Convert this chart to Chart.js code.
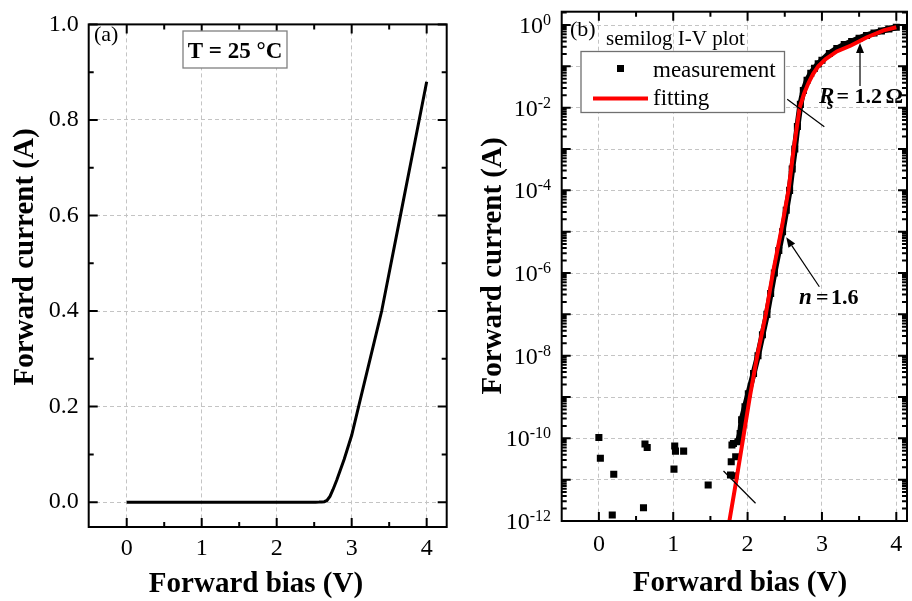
<!DOCTYPE html>
<html>
<head>
<meta charset="utf-8">
<script src="https://cdn.jsdelivr.net/npm/chart.js@4.4.1/dist/chart.umd.min.js"></script>
<style>
  html, body { margin: 0; padding: 0; background: #fff; }
  #wrap { position: relative; width: 912px; height: 601px; }
  #chartA { position: absolute; left: 0; top: 0; }
  #chartB { position: absolute; left: 460px; top: 0; }
</style>
</head>
<body>
<div id="wrap">
  <canvas id="chartA" width="460" height="601"></canvas>
  <canvas id="chartB" width="452" height="601"></canvas>
</div>
<script>
// measured forward I-V (bias in V, current in A)
const biasV = [0.00, 0.02, 0.18, 0.20, 0.60, 0.62, 0.65, 1.01, 1.02, 1.03, 1.14, 1.47,
  1.77, 1.78, 1.79, 1.81, 1.83, 1.84, 1.87, 1.90, 1.92, 1.965, 2.01, 2.08, 2.14, 2.20,
  2.26, 2.31, 2.36, 2.42, 2.47, 2.52, 2.565, 2.60, 2.635, 2.67, 2.71, 2.75, 2.80, 2.85,
  2.90, 2.95, 3.00, 3.10, 3.20, 3.30, 3.40, 3.50, 3.60, 3.70, 3.80, 3.90, 4.00];
const currentA = [1.05e-10, 3.3e-11, 1.4e-12, 1.35e-11, 2.1e-12, 7.3e-11, 6.0e-11, 1.8e-11, 6.5e-11, 4.9e-11, 4.9e-11, 7.4e-12,
  1.3e-11, 2.7e-11, 6.9e-11, 7.5e-11, 1.25e-11, 3.6e-11, 8.3e-11, 1.3e-10, 2.8e-10, 5.8e-10, 1.2e-9, 3.7e-9, 1.0e-8, 3.2e-8,
  1.0e-7, 3.2e-7, 1.0e-6, 3.5e-6, 1.0e-5, 3.3e-5, 1.0e-4, 3.3e-4, 1.0e-3, 3.5e-3, 1.2e-2, 2.6e-2, 4.6e-2, 6.8e-2,
  0.09, 0.115, 0.14, 0.205, 0.27, 0.335, 0.40, 0.48, 0.56, 0.64, 0.72, 0.80, 0.88];

// diode model fit (n = 1.6, Rs = 1.2 ohm)
const fitV = [1.755, 1.85, 1.94, 2.03, 2.13, 2.245, 2.34, 2.45, 2.55, 2.62, 2.70, 2.76, 2.82, 2.88, 2.95, 3.05, 3.20, 3.39, 3.60, 3.83, 4.00];
const fitA = [1e-12, 1e-11, 1e-10, 1e-9, 1e-8, 1e-7, 1e-6, 1e-5, 1e-4, 1e-3, 1e-2, 2.2e-2, 4e-2, 6.5e-2, 0.1, 0.15, 0.23, 0.32, 0.5, 0.74, 0.88];

// axis ticks
const biasTicks = [0, 1, 2, 3, 4];
const biasMinor = [0.5, 1.5, 2.5, 3.5];
const linTicks = [0, 0.2, 0.4, 0.6, 0.8, 1.0];
const linMinor = [0.1, 0.3, 0.5, 0.7, 0.9];
const logExps = [-12, -11, -10, -9, -8, -7, -6, -5, -4, -3, -2, -1, 0];
const logLabelExps = [0, -2, -4, -6, -8, -10, -12];

const SERIF = '"Liberation Serif", "Times New Roman", serif';
const GRID = '#c4c4c4';

// frame with inward ticks on all four sides
const framePlugin = {
  id: 'frame',
  afterDraw(chart, args, opts) {
    const { ctx, chartArea: a, scales: { x, y } } = chart;
    ctx.save();
    ctx.strokeStyle = '#000';
    ctx.lineWidth = 2;
    ctx.beginPath();
    const xt = (vals, len) => vals.forEach(v => {
      const px = x.getPixelForValue(v);
      ctx.moveTo(px, a.bottom); ctx.lineTo(px, a.bottom - len);
      ctx.moveTo(px, a.top); ctx.lineTo(px, a.top + len);
    });
    const yt = (vals, len) => vals.forEach(v => {
      const py = y.getPixelForValue(v);
      if (py < a.top - 0.5 || py > a.bottom + 0.5) return;
      ctx.moveTo(a.left, py); ctx.lineTo(a.left + len, py);
      ctx.moveTo(a.right, py); ctx.lineTo(a.right - len, py);
    });
    xt(opts.xMajor, 9); xt(opts.xMinor, 5);
    yt(opts.yMajor, 9); yt(opts.yMinor, 5);
    ctx.stroke();
    ctx.strokeRect(a.left, a.top, a.right - a.left, a.bottom - a.top);
    ctx.restore();
  }
};

function arrow(ctx, x1, y1, x2, y2) {
  const ang = Math.atan2(y2 - y1, x2 - x1), L = 10, W = 4;
  const bx = x2 - L * Math.cos(ang), by = y2 - L * Math.sin(ang);
  ctx.beginPath(); ctx.moveTo(x1, y1); ctx.lineTo(bx, by); ctx.stroke();
  ctx.beginPath();
  ctx.moveTo(x2, y2);
  ctx.lineTo(bx + W * Math.sin(ang), by - W * Math.cos(ang));
  ctx.lineTo(bx - W * Math.sin(ang), by + W * Math.cos(ang));
  ctx.closePath(); ctx.fill();
}

function yTitle(ctx, text, x, y) {
  ctx.save();
  ctx.translate(x, y);
  ctx.rotate(-Math.PI / 2);
  ctx.textAlign = 'center';
  ctx.textBaseline = 'alphabetic';
  ctx.fillText(text, 0, 0);
  ctx.restore();
}

const panelA = {
  id: 'panelA',
  afterDraw(chart) {
    const ctx = chart.ctx;
    ctx.save();
    ctx.fillStyle = '#000';
    ctx.font = 'bold 29px ' + SERIF;
    ctx.textAlign = 'center';
    ctx.fillText('Forward bias (V)', 256, 592);
    yTitle(ctx, 'Forward current (A)', 33, 257);
    ctx.textAlign = 'left';
    ctx.font = '22px ' + SERIF;
    ctx.fillText('(a)', 94, 41);
    // temperature box
    ctx.fillStyle = '#fff';
    ctx.fillRect(183, 31, 104, 37);
    ctx.strokeStyle = '#808080';
    ctx.lineWidth = 1.3;
    ctx.strokeRect(183, 31, 104, 37);
    ctx.fillStyle = '#000';
    ctx.font = 'bold 23px ' + SERIF;
    ctx.textAlign = 'center';
    ctx.fillText('T = 25 \u00B0C', 235, 57.5);
    ctx.restore();
  }
};

const panelB = {
  id: 'panelB',
  afterDraw(chart) {
    const { ctx, scales: { x, y } } = chart;
    const P = (v, e) => [x.getPixelForValue(v), y.getPixelForValue(Math.pow(10, e))];
    ctx.save();
    ctx.fillStyle = '#000';
    // log tick labels 10^n
    ctx.textAlign = 'right';
    ctx.textBaseline = 'alphabetic';
    logLabelExps.forEach(e => {
      const py = y.getPixelForValue(Math.pow(10, e));
      const sup = e === 0 ? '0' : '-' + (-e);
      ctx.font = '16px ' + SERIF;
      const w = ctx.measureText(sup).width;
      ctx.fillText(sup, 91, py);
      ctx.font = '24px ' + SERIF;
      ctx.fillText('10', 91 - w, py + 8);
    });
    // axis titles
    ctx.font = 'bold 29px ' + SERIF;
    ctx.textAlign = 'center';
    ctx.fillText('Forward bias (V)', 280, 591);
    yTitle(ctx, 'Forward current (A)', 41, 266);
    // panel labels
    ctx.textAlign = 'left';
    ctx.font = '22px ' + SERIF;
    ctx.fillText('(b)', 110, 36);
    ctx.font = '21px ' + SERIF;
    ctx.fillText('semilog I-V plot', 146, 45);
    // legend
    ctx.fillStyle = '#fff';
    ctx.fillRect(121, 51.5, 203.5, 61);
    ctx.strokeStyle = '#707070';
    ctx.lineWidth = 1.3;
    ctx.strokeRect(121, 51.5, 203.5, 61);
    ctx.fillStyle = '#000';
    ctx.fillRect(157, 65, 7, 7);
    ctx.font = '23px ' + SERIF;
    ctx.fillText('measurement', 193, 77);
    ctx.fillText('fitting', 193, 105);
    ctx.strokeStyle = '#ff0000';
    ctx.lineWidth = 4;
    ctx.beginPath(); ctx.moveTo(133, 98.5); ctx.lineTo(188, 98.5); ctx.stroke();
    // slope guide lines and arrows
    ctx.strokeStyle = '#000';
    ctx.lineWidth = 1.2;
    let a = P(2.533, -1.798), b = P(3.032, -2.46);
    ctx.beginPath(); ctx.moveTo(a[0], a[1]); ctx.lineTo(b[0], b[1]); ctx.stroke();
    a = P(1.676, -10.79); b = P(2.107, -11.57);
    ctx.beginPath(); ctx.moveTo(a[0], a[1]); ctx.lineTo(b[0], b[1]); ctx.stroke();
    a = P(3.512, -1.476); b = P(3.512, -0.435);
    arrow(ctx, a[0], a[1], b[0], b[1]);
    a = P(2.965, -6.332); b = P(2.52, -5.137);
    arrow(ctx, a[0], a[1], b[0], b[1]);
    // Rs label
    ctx.font = 'italic bold 23px ' + SERIF;
    ctx.fillText('R', 359, 103);
    ctx.font = 'italic bold 16px ' + SERIF;
    ctx.fillText('s', 367, 109);
    ctx.font = 'bold 22px ' + SERIF;
    ctx.fillText('=', 376.5, 103);
    ctx.fillText('1.2', 394.5, 103);
    ctx.fillText('\u03A9', 425.5, 103);
    // ideality label
    ctx.font = 'italic bold 23px ' + SERIF;
    ctx.fillText('n', 339, 303.5);
    ctx.font = 'bold 22px ' + SERIF;
    ctx.fillText('=', 356, 303.5);
    ctx.fillText('1.6', 371, 303.5);
    ctx.restore();
  }
};

const measured = biasV.map((v, i) => ({ x: v, y: currentA[i] }));
const fitted = fitV.map((v, i) => ({ x: v, y: fitA[i] }));

const gridStyle = { color: GRID, lineWidth: 1, drawTicks: false };
const borderStyle = { display: false, dash: [4, 3] };
const tickFont = { family: SERIF, size: 24 };

// (a) linear I-V
new Chart(document.getElementById('chartA'), {
  type: 'scatter',
  data: {
    datasets: [{
      data: measured,
      showLine: true,
      borderColor: '#000',
      borderWidth: 3,
      pointRadius: 0,
      tension: 0
    }]
  },
  options: {
    responsive: false,
    animation: false,
    events: [],
    layout: { padding: { left: 0, top: 15.7, right: 13.3, bottom: 0 } },
    plugins: {
      legend: { display: false },
      tooltip: { enabled: false },
      frame: { xMajor: biasTicks, xMinor: biasMinor, yMajor: linTicks, yMinor: linMinor }
    },
    scales: {
      x: {
        type: 'linear', min: -0.507, max: 4.267,
        afterBuildTicks: s => { s.ticks = biasTicks.map(v => ({ value: v })); },
        afterFit: s => { s.height = 74; },
        grid: gridStyle, border: borderStyle,
        ticks: { padding: 7.5, font: tickFont, color: '#000', maxRotation: 0, autoSkip: false, callback: v => String(v) }
      },
      y: {
        type: 'linear', min: -0.052, max: 1.0,
        afterBuildTicks: s => { s.ticks = linTicks.map(v => ({ value: v })); },
        afterFit: s => { s.width = 88.7; },
        grid: gridStyle, border: borderStyle,
        ticks: { padding: 10, font: tickFont, color: '#000', autoSkip: false, callback: v => v.toFixed(1) }
      }
    }
  },
  plugins: [framePlugin, panelA]
});

// (b) semilog I-V
const logMinor = [];
logExps.forEach(e => { for (let k = 2; k <= 9; k++) logMinor.push(k * Math.pow(10, e)); });

new Chart(document.getElementById('chartB'), {
  type: 'scatter',
  data: {
    datasets: [{
      label: 'fitting',
      data: fitted,
      showLine: true,
      borderColor: '#ff0000',
      borderWidth: 4,
      pointRadius: 0,
      tension: 0
    }, {
      label: 'measurement',
      data: measured,
      showLine: true,
      borderColor: '#000',
      borderWidth: 6,
      segment: { borderColor: c => (c.p0.parsed.x < 1.86 ? 'rgba(0,0,0,0)' : '#000') },
      pointStyle: 'rect',
      pointRadius: 5,
      pointBackgroundColor: '#000',
      pointBorderWidth: 0,
      tension: 0
    }]
  },
  options: {
    responsive: false,
    animation: false,
    events: [],
    layout: { padding: { left: 0, top: 11.7, right: 1.3, bottom: 0 } },
    plugins: {
      legend: { display: false },
      tooltip: { enabled: false },
      frame: { xMajor: biasTicks, xMinor: biasMinor, yMajor: logExps.map(e => Math.pow(10, e)), yMinor: logMinor }
    },
    scales: {
      x: {
        type: 'linear', min: -0.5, max: 4.144,
        afterBuildTicks: s => { s.ticks = biasTicks.map(v => ({ value: v })); },
        afterFit: s => { s.height = 80; },
        grid: gridStyle, border: borderStyle,
        ticks: { padding: 9.5, font: tickFont, color: '#000', maxRotation: 0, autoSkip: false, callback: v => String(v) }
      },
      y: {
        type: 'logarithmic', min: 1e-12, max: 2.1,
        afterBuildTicks: s => { s.ticks = logExps.map(e => ({ value: Math.pow(10, e) })); },
        afterFit: s => { s.width = 101.7; },
        grid: gridStyle, border: borderStyle,
        ticks: { display: false }
      }
    }
  },
  plugins: [framePlugin, panelB]
});
</script>
</body>
</html>
